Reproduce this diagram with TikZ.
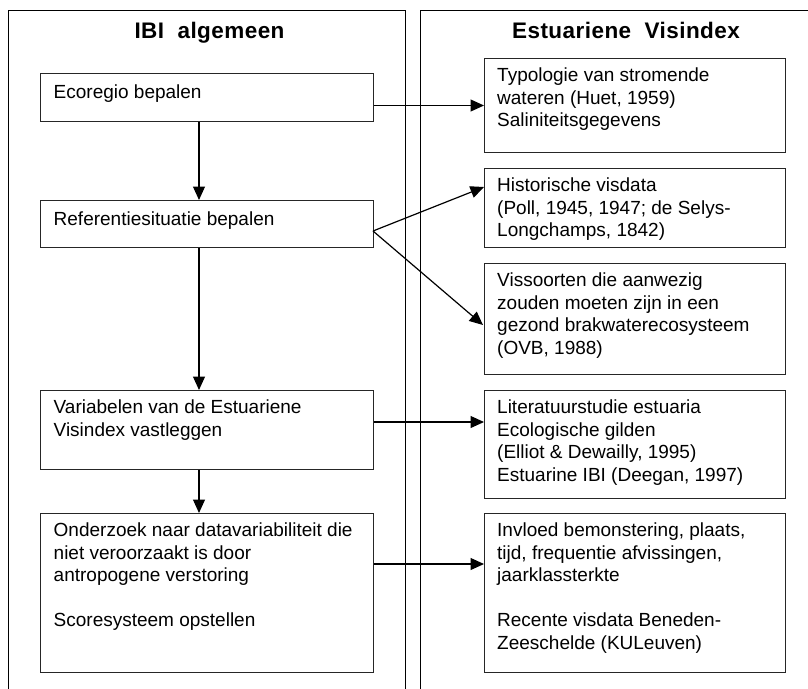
\documentclass[tikz,border=0pt]{standalone}
\usepackage{fontspec}
\setmainfont{Liberation Sans}
\newfontfamily\titlefont{Liberation Sans}[LetterSpace=2.0]
\usetikzlibrary{arrows.meta,calc}
\begin{document}
\begin{tikzpicture}[x=1pt,y=-1pt,
  panel/.style={draw=black,line width=1pt},
  box/.style={draw=black!85,line width=1pt,rectangle,inner sep=0pt,anchor=north west},
  txt/.style={inner sep=0pt,anchor=north west,align=left,
    font=\fontsize{19}{22.5}\selectfont,execute at begin node={\rule{0pt}{15pt}}},
  ttl/.style={inner sep=0pt,anchor=base,font=\titlefont\bfseries\fontsize{22.5}{27}\selectfont},
  arr/.style={draw=black,line width=1.2pt,-{Triangle[length=13.5pt,width=12pt]}}]
\useasboundingbox (0,0) rectangle (808,688);
\fill[white] (0,0) rectangle (808,688);
% panels
\draw[panel] (8,700) -- (8,10) -- (405,10) -- (405,700);
\draw[panel] (420,700) -- (420,10) -- (815,10);
\node[ttl] (t1) at (209.5,38) {IBI~~algemeen};
\node[ttl] (t2) at (626,38) {Estuariene~~Visindex};
% left boxes
\node[box,minimum width=333pt,minimum height=48pt] (b1) at (40,73) {};
\node[box,minimum width=333pt,minimum height=47pt] (b2) at (40,200) {};
\node[box,minimum width=333pt,minimum height=79pt] (b3) at (40,390) {};
\node[box,minimum width=333pt,minimum height=159pt] (b4) at (40,513) {};
\node[txt] (tb1) at (53.5,83) {Ecoregio bepalen};
\node[txt] (tb2) at (53.5,210) {Referentiesituatie bepalen};
\node[txt] (tb3) at (53.5,400) {Variabelen van de Estuariene\\Visindex vastleggen};
\node[txt] (tb4) at (53.5,523) {Onderzoek naar datavariabiliteit die\\niet veroorzaakt is door\\antropogene verstoring\\[22.5pt]Scoresysteem opstellen};
% right boxes
\node[box,minimum width=301pt,minimum height=94pt] (r1) at (484,58) {};
\node[box,minimum width=301pt,minimum height=79pt] (r2) at (484,168) {};
\node[box,minimum width=301pt,minimum height=111pt] (r3) at (484,263) {};
\node[box,minimum width=301pt,minimum height=108pt] (r4) at (484,390) {};
\node[box,minimum width=301pt,minimum height=159pt] (r5) at (484,513) {};
\node[txt] (tr1) at (497,68) {Typologie van stromende\\wateren (Huet, 1959)\\Saliniteitsgegevens};
\node[txt] (tr2) at (497,178) {Historische visdata\\(Poll, 1945, 1947; de Selys-\\Longchamps, 1842)};
\node[txt] (tr3) at (497,273) {Vissoorten die aanwezig\\zouden moeten zijn in een\\gezond brakwaterecosysteem\\(OVB, 1988)};
\node[txt] (tr4) at (497,400) {Literatuurstudie estuaria\\Ecologische gilden\\(Elliot \& Dewailly, 1995)\\Estuarine IBI (Deegan, 1997)};
\node[txt] (tr5) at (497,523) {Invloed bemonstering, plaats,\\tijd, frequentie afvissingen,\\jaarklassterkte\\[22.5pt]Recente visdata Beneden-\\Zeeschelde (KULeuven)};
% helper coordinates
\coordinate (ax) at (199,0);
\coordinate (o2) at (373,231);
\coordinate (p2) at (484,187);
\coordinate (p3) at (483,325);
\coordinate (y3) at (0,422);
\coordinate (y4) at (0,564);
% connectors
\draw[arr] (b1.south -| ax) -- (b2.north -| ax);
\draw[arr] (b2.south -| ax) -- (b3.north -| ax);
\draw[arr] (b3.south -| ax) -- (b4.north -| ax);
\draw[arr] (r1.west -| b1.east) -- (r1.west);
\draw[arr] (o2) -- (p2);
\draw[arr] (o2) -- (p3);
\draw[arr] (b3.east |- y3) -- (r4.west |- y3);
\draw[arr] (b4.east |- y4) -- (r5.west |- y4);
\end{tikzpicture}
\end{document}
